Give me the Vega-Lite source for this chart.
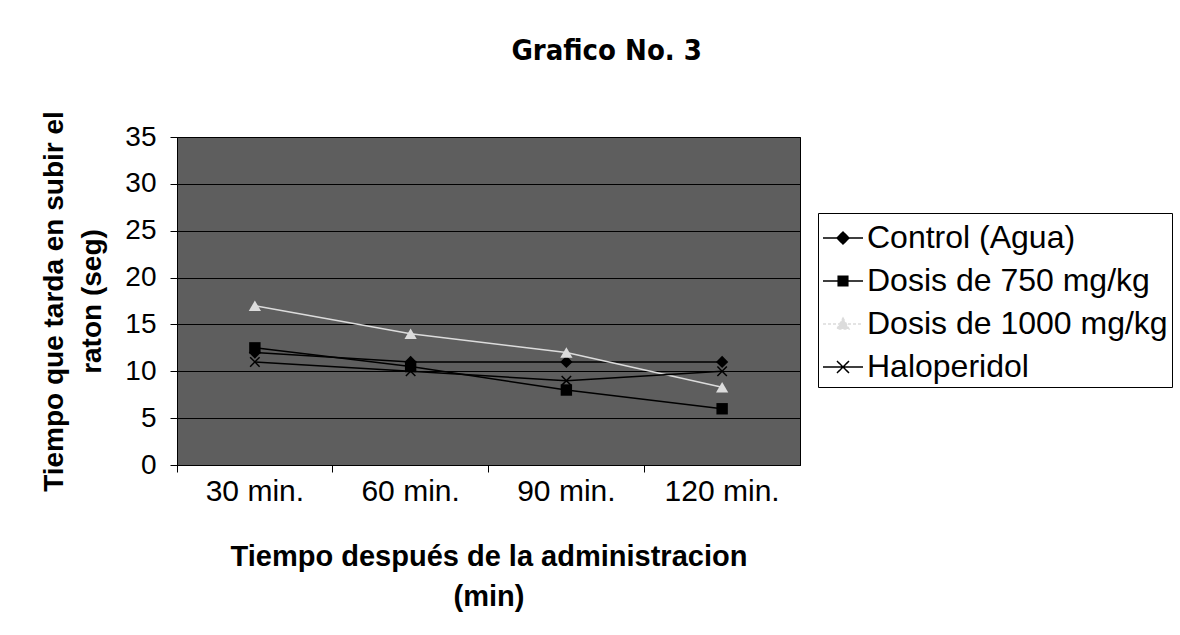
{
  "$schema": "https://vega.github.io/schema/vega-lite/v6.json",
  "width": 623,
  "height": 328,
  "padding": {"left": 40, "top": 36, "right": 2, "bottom": 5},
  "background": "white",
  "title": {
    "text": "Grafico No. 3",
    "font": "DejaVu Sans Condensed",
    "fontSize": 29,
    "fontWeight": "bold",
    "color": "black",
    "anchor": "middle",
    "frame": "bounds",
    "offset": 45
  },
  "data": {
    "values": [
      {"tiempo": "30 min.", "serie": "Control (Agua)", "seg": 12},
      {"tiempo": "60 min.", "serie": "Control (Agua)", "seg": 11},
      {"tiempo": "90 min.", "serie": "Control (Agua)", "seg": 11},
      {"tiempo": "120 min.", "serie": "Control (Agua)", "seg": 11},
      {"tiempo": "30 min.", "serie": "Dosis  de 750 mg/kg", "seg": 12.5},
      {"tiempo": "60 min.", "serie": "Dosis  de 750 mg/kg", "seg": 10.5},
      {"tiempo": "90 min.", "serie": "Dosis  de 750 mg/kg", "seg": 8},
      {"tiempo": "120 min.", "serie": "Dosis  de 750 mg/kg", "seg": 6},
      {"tiempo": "30 min.", "serie": "Dosis de 1000 mg/kg", "seg": 17},
      {"tiempo": "60 min.", "serie": "Dosis de 1000 mg/kg", "seg": 14},
      {"tiempo": "90 min.", "serie": "Dosis de 1000 mg/kg", "seg": 12},
      {"tiempo": "120 min.", "serie": "Dosis de 1000 mg/kg", "seg": 8.3},
      {"tiempo": "30 min.", "serie": "Haloperidol", "seg": 11},
      {"tiempo": "60 min.", "serie": "Haloperidol", "seg": 10},
      {"tiempo": "90 min.", "serie": "Haloperidol", "seg": 9},
      {"tiempo": "120 min.", "serie": "Haloperidol", "seg": 10}
    ]
  },
  "encoding": {
    "y": {
      "field": "seg",
      "type": "quantitative",
      "scale": {"domain": [0, 35]},
      "axis": {
        "values": [0, 5, 10, 15, 20, 25, 30, 35],
        "title": ["Tiempo que tarda en subir el", "raton (seg)"],
        "titleFont": "Liberation Sans",
        "titleFontSize": 28,
        "titleFontWeight": "bold",
        "titleLineHeight": 38,
        "titleColor": "black",
        "titlePadding": 18,
        "labelFont": "Liberation Sans",
        "labelFontSize": 28,
        "labelColor": "black",
        "labelPadding": 14,
        "domainColor": "black",
        "tickColor": "black",
        "tickSize": 7,
        "grid": true,
        "gridColor": "black",
        "gridWidth": 1
      }
    },
    "color": {
      "field": "serie",
      "type": "nominal",
      "scale": {
        "domain": ["Control (Agua)", "Dosis  de 750 mg/kg", "Dosis de 1000 mg/kg", "Haloperidol"],
        "range": ["black", "black", "#dcdcdc", "black"]
      },
      "legend": {
        "title": null,
        "orient": "none",
        "legendX": 641,
        "legendY": 76,
        "labelFont": "Liberation Sans",
        "labelFontSize": 32,
        "labelColor": "black",
        "labelLimit": 0,
        "labelOffset": 3,
        "strokeColor": "black",
        "padding": 4,
        "rowPadding": 6,
        "symbolSize": 1600,
        "symbolStrokeWidth": 1.5,
        "encode": {
          "symbols": {
            "update": {
              "shape": {"signal": "datum.value === 'Control (Agua)' ? 'M-1,0H1M0,-0.3L0.3,0L0,0.3L-0.3,0Z' : datum.value === 'Dosis  de 750 mg/kg' ? 'M-1,0H1M-0.24,-0.24H0.24V0.24H-0.24Z' : datum.value === 'Dosis de 1000 mg/kg' ? 'M-1,0H1M0,-0.3L0.3,0.25H-0.3Z' : 'M-1,0H1M-0.3,-0.3L0.3,0.3M-0.3,0.3L0.3,-0.3'"},
              "fill": {"signal": "datum.value === 'Dosis de 1000 mg/kg' ? '#bbbbbb' : datum.value === 'Haloperidol' ? 'transparent' : 'black'"},
              "stroke": {"signal": "datum.value === 'Dosis de 1000 mg/kg' ? '#999999' : 'black'"},
              "strokeDash": {"signal": "datum.value === 'Dosis de 1000 mg/kg' ? [3, 2] : [1, 0]"},
              "strokeWidth": {"value": 1.5},
              "opacity": {"value": 1},
              "size": {"value": 1600}
            }
          }
        }
      }
    }
  },
  "layer": [
    {
      "mark": {"type": "line", "strokeWidth": 1.5},
      "encoding": {
        "x": {
          "field": "tiempo",
          "type": "ordinal",
          "sort": ["30 min.", "60 min.", "90 min.", "120 min."],
          "scale": {"type": "band", "paddingInner": 0, "paddingOuter": 0},
          "axis": {
            "orient": "bottom",
            "bandPosition": 0,
            "labels": false,
            "title": null,
            "ticks": true,
            "tickSize": 7,
            "tickColor": "black",
            "domainColor": "black",
            "grid": false
          }
        }
      }
    },
    {
      "encoding": {
        "x": {
          "field": "tiempo",
          "type": "ordinal",
          "sort": ["30 min.", "60 min.", "90 min.", "120 min."],
          "axis": {
            "orient": "bottom",
            "ticks": false,
            "domain": false,
            "labelAngle": 0,
            "labelFont": "Liberation Sans",
            "labelFontSize": 30,
            "labelColor": "black",
            "labelPadding": 11,
            "title": ["Tiempo después de la administracion", "(min)"],
            "titleFont": "Liberation Sans",
            "titleFontSize": 29,
            "titleFontWeight": "bold",
            "titleLineHeight": 40,
            "titleColor": "black",
            "titlePadding": 36,
            "grid": false
          }
        }
      },
      "layer": [
        {
          "transform": [{"filter": "datum.serie === 'Control (Agua)'"}],
          "mark": {"type": "point", "filled": true, "shape": "diamond", "size": 150, "opacity": 1}
        },
        {
          "transform": [{"filter": "datum.serie === 'Dosis  de 750 mg/kg'"}],
          "mark": {"type": "point", "filled": true, "shape": "square", "size": 130, "opacity": 1}
        },
        {
          "transform": [{"filter": "datum.serie === 'Dosis de 1000 mg/kg'"}],
          "mark": {"type": "point", "filled": true, "shape": "triangle-up", "size": 150, "opacity": 1}
        },
        {
          "transform": [{"filter": "datum.serie === 'Haloperidol'"}],
          "mark": {"type": "point", "filled": false, "shape": "M-1,-1L1,1M-1,1L1,-1", "size": 90, "strokeWidth": 1.5, "opacity": 1}
        }
      ]
    }
  ],
  "resolve": {"axis": {"x": "independent"}},
  "config": {
    "view": {"fill": "#5e5e5e", "stroke": "black", "strokeWidth": 1}
  }
}
